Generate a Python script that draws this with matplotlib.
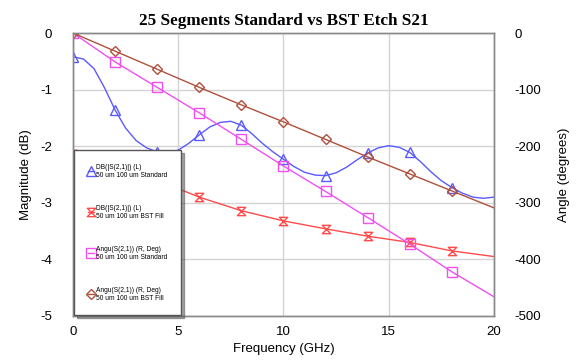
import numpy as np
import matplotlib
matplotlib.use("Agg")
import matplotlib.pyplot as plt
from matplotlib.path import Path

plt.rcParams["font.family"] = "Liberation Sans"
plt.rcParams["axes.unicode_minus"] = False

# =========================
# DATA
# =========================
# dense sweep for the standard line magnitude (0.5 GHz steps)
freq_fine = np.arange(0, 20.01, 0.5)
db_standard = [
    -0.42, -0.46, -0.63, -0.97, -1.36, -1.68, -1.90, -2.03, -2.10, -2.12,
    -2.07, -1.95, -1.80, -1.66, -1.58, -1.56, -1.63, -1.78, -1.95, -2.10,
    -2.23, -2.36, -2.46, -2.51, -2.52, -2.47, -2.37, -2.24, -2.12, -2.03,
    -1.99, -2.02, -2.11, -2.27, -2.45, -2.61, -2.73, -2.83, -2.90, -2.92,
    -2.90,
]

# coarse sweep (2 GHz steps)
freq = [0, 2, 4, 6, 8, 10, 12, 14, 16, 18, 20]
db_bst = [-2.13, -2.36, -2.60, -2.90, -3.14, -3.32, -3.46, -3.59, -3.70, -3.85, -3.95]
ang_standard = [0, -51, -96, -141, -188, -235, -280, -326, -373, -422, -466]
ang_bst = [0, -32, -64, -96, -127, -157, -188, -219, -249, -279, -309]

labels = [
    "DB(|S(2,1)|) (L)\n50 um 100 um Standard",
    "DB(|S(2,1)|) (L)\n50 um 100 um BST Fill",
    "Angu(S(2,1)) (R, Deg)\n50 um 100 um Standard",
    "Angu(S(2,1)) (R, Deg)\n50 um 100 um BST Fill",
]

# hourglass marker for the BST fill magnitude trace
hourglass = Path([(-1, 1), (1, 1), (-1, -1), (1, -1), (-1, 1)],
                 [Path.MOVETO, Path.LINETO, Path.LINETO, Path.LINETO, Path.CLOSEPOLY])

blue = "#5a5aff"
red = "#ff4a4a"
magenta = "#f050f0"
brown = "#b0503c"

# =========================
# PLOT
# =========================
fig = plt.figure(figsize=(5.81, 3.64), dpi=100)
ax = fig.add_axes([0.1256, 0.1319, 0.7246, 0.7774])
ax2 = ax.twinx()

l1, = ax.plot(freq_fine, db_standard, color=blue, lw=1, marker="^", ms=7,
              mfc="none", mew=1, markevery=slice(0, 37, 4))
l2, = ax.plot(freq, db_bst, color=red, lw=1, marker=hourglass, ms=6,
              mfc="none", mew=1, markevery=slice(0, 10))
l3, = ax2.plot(freq, ang_standard, color=magenta, lw=1, marker="s", ms=7,
               mfc="none", mew=1, markevery=slice(0, 10))
l4, = ax2.plot(freq, ang_bst, color=brown, lw=1, marker="D", ms=5,
               mfc="none", mew=1, markevery=slice(0, 10))

ax.set_xlim(0, 20)
ax.set_ylim(-5, 0)
ax2.set_ylim(-500, 0)
ax.set_xticks([0, 5, 10, 15, 20])
ax.set_yticks([0, -1, -2, -3, -4, -5])
ax2.set_yticks([0, -100, -200, -300, -400, -500])

ax.grid(True, color="#d4d4d4", lw=1)
ax.set_axisbelow(True)
for a in (ax, ax2):
    for s in a.spines.values():
        s.set_color("#8a8a8a")
        s.set_linewidth(1)
    a.tick_params(length=0, labelsize=9.5)
ax.tick_params(axis="y", pad=15)
ax.tick_params(axis="x", pad=7)
ax2.tick_params(axis="y", pad=15)

ax.set_xlabel("Frequency (GHz)", fontsize=9.5, labelpad=4)
ax.set_ylabel("Magnitude (dB)", fontsize=9.5, labelpad=6)
ax2.set_ylabel("Angle (degrees)", fontsize=9.5, labelpad=12)

ax.set_title("25 Segments Standard vs BST Etch S21", fontsize=12.3,
             fontweight="bold", family="Liberation Serif", pad=6)

leg = ax2.legend([l1, l2, l3, l4], labels, loc="lower left",
                 bbox_to_anchor=(0.003, 0.003), fontsize=4.8,
                 handlelength=0.9, handletextpad=0.4, labelspacing=3.9,
                 borderpad=2.0, borderaxespad=0, fancybox=False, shadow=True,
                 framealpha=1, edgecolor="#555555")
leg.get_frame().set_linewidth(1)

fig.savefig("out.png", dpi=100)
